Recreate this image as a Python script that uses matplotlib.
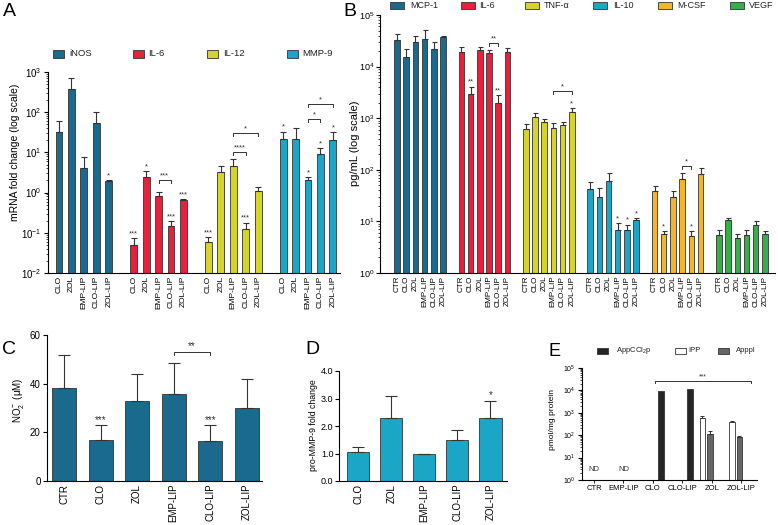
import numpy as np
import matplotlib
matplotlib.use('Agg')
import matplotlib.pyplot as plt
from matplotlib.patches import Rectangle
from matplotlib.ticker import LogLocator, NullFormatter, FormatStrFormatter

plt.rcParams['font.family'] = ['Liberation Sans', 'DejaVu Sans']
plt.rcParams['mathtext.fontset'] = 'custom'
plt.rcParams['mathtext.rm'] = 'Liberation Sans'
plt.rcParams['mathtext.it'] = 'Liberation Sans:italic'
plt.rcParams['mathtext.bf'] = 'Liberation Sans:bold'
plt.rcParams['axes.linewidth'] = 0.8

# ---------------- data ----------------
A_series = ['iNOS', 'IL-6', 'IL-12', 'MMP-9']
A_labels = ['CLO', 'ZOL', 'EMP-LIP', 'CLO-LIP', 'ZOL-LIP']
A_iNOS = [33, 375, 4.2, 53, 1.9]
A_iNOS_err = [60, 700, 7.5, 100, 2.1]
A_iNOS_sig = ['', '', '', '', '*']
A_IL6 = [0.05, 2.5, 0.84, 0.15, 0.67]
A_IL6_err = [0.075, 3.5, 1.06, 0.2, 0.7]
A_IL6_sig = ['***', '*', '', '***', '***']
A_IL12 = [0.06, 3.3, 4.5, 0.125, 1.1]
A_IL12_err = [0.08, 4.5, 7.0, 0.18, 1.4]
A_IL12_sig = ['***', '', '', '***', '']
A_MMP9 = [21, 22, 2.0, 9.0, 20]
A_MMP9_err = [33, 40, 2.4, 13, 32]
A_MMP9_sig = ['*', '', '*', '*', '*']

B_series = ['MCP-1', 'IL-6', 'TNF-α', 'IL-10', 'M-CSF', 'VEGF']
B_labels = ['CTR', 'CLO', 'ZOL', 'EMP-LIP', 'CLO-LIP', 'ZOL-LIP']
B_MCP1 = [33000, 15500, 30000, 35000, 22000, 38000]
B_MCP1_err = [43000, 22000, 40000, 51000, 30000, 40000]
B_MCP1_sig = ['', '', '', '', '', '']
B_IL6 = [19500, 3000, 21000, 18000, 1950, 19500]
B_IL6_err = [24000, 4100, 23500, 21000, 2800, 23000]
B_IL6_sig = ['', '**', '', '', '**', '']
B_TNF = [610, 1050, 840, 650, 730, 1300]
B_TNF_err = [760, 1270, 960, 800, 840, 1600]
B_TNF_sig = ['', '', '', '', '', '*']
B_IL10 = [43, 30, 62, 6.7, 6.7, 10.5]
B_IL10_err = [59, 45, 88, 9.2, 8.7, 11.4]
B_IL10_sig = ['', '', '', '*', '*', '*']
B_MCSF = [38, 5.6, 30, 65, 5.2, 84]
B_MCSF_err = [49, 6.4, 38, 88, 6.4, 110]
B_MCSF_sig = ['', '*', '', '', '*', '']
B_VEGF = [5.4, 10.5, 4.7, 5.4, 8.4, 5.6]
B_VEGF_err = [6.7, 11.4, 5.6, 6.7, 10.0, 6.4]
B_VEGF_sig = ['', '', '', '', '', '']

C_labels = ['CTR', 'CLO', 'ZOL', 'EMP-LIP', 'CLO-LIP', 'ZOL-LIP']
C_vals = [38.3, 16.8, 32.9, 35.8, 16.6, 29.9]
C_err = [51.8, 22.9, 43.8, 48.4, 22.9, 41.8]
C_sig = ['', '***', '', '', '***', '']

D_labels = ['CLO', 'ZOL', 'EMP-LIP', 'CLO-LIP', 'ZOL-LIP']
D_vals = [1.04, 2.30, 1.00, 1.49, 2.28]
D_err = [1.22, 3.08, 1.00, 1.84, 2.90]
D_sig = ['', '', '', '', '*']

E_labels = ['CTR', 'EMP-LIP', 'CLO', 'CLO-LIP', 'ZOL', 'ZOL-LIP']
E_series = ['AppCCl$_2$p', 'IPP', 'Apppl']
E_AppCCl2p = [np.nan, np.nan, 9500, 11800, np.nan, np.nan]
E_IPP = [np.nan, np.nan, np.nan, np.nan, 560, 375]
E_IPP_err = [np.nan, np.nan, np.nan, np.nan, 710, 445]
E_Apppl = [np.nan, np.nan, np.nan, np.nan, 115, 82]
E_Apppl_err = [np.nan, np.nan, np.nan, np.nan, 155, 93]
E_nd = ['ND', 'ND', '', '', '', '']

# ---------------- styling ----------------
teal_dark = '#196a8c'
red = '#e8203c'
ygreen = '#d4d42a'
teal_light = '#1ba6c8'
orange = '#f6b42a'
green = '#39ad48'
edge = '#333333'

W, H = 778, 525
fig = plt.figure(figsize=(W / 100, H / 100), dpi=100)


def rect_px(x0, y0, x1, y1):
    return [x0 / W, 1 - y1 / H, (x1 - x0) / W, (y1 - y0) / H]


def style(ax, xfs, yfs):
    for s in ['top', 'right']:
        ax.spines[s].set_visible(False)
    ax.tick_params(axis='x', length=0, labelsize=xfs, pad=2)
    ax.tick_params(axis='y', which='major', length=3, width=0.8, labelsize=yfs, pad=1.5)
    ax.tick_params(axis='y', which='minor', length=1.5, width=0.5)


def log_axis(ax, lo, hi):
    ax.set_yscale('log')
    ax.set_ylim(lo, hi)
    ax.yaxis.set_major_locator(LogLocator(base=10, numticks=12))
    ax.yaxis.set_minor_locator(LogLocator(base=10, subs=np.arange(2, 10), numticks=12))
    ax.yaxis.set_minor_formatter(NullFormatter())


def shift_y(ax, x, y, dpx):
    d = ax.transData.transform((x, y))
    return ax.transData.inverted().transform((d[0], d[1] + dpx))[1]


def bracket(ax, x1, x2, y, text, fs, drop=3):
    yl = shift_y(ax, x1, y, -drop)
    ax.plot([x1, x1, x2, x2], [yl, y, y, yl], color=edge, lw=0.7, clip_on=False)
    ax.annotate(text, ((x1 + x2) / 2, y), xytext=(0, 0.5), textcoords='offset points',
                ha='center', va='bottom', fontsize=fs, color=edge)


def stars(ax, xs, tops, sig, fs):
    for x, t, s in zip(xs, tops, sig):
        if s:
            ax.annotate(s, (x, t), xytext=(0, 0.5), textcoords='offset points',
                        ha='center', va='bottom', fontsize=fs, color=edge)


def bars(ax, x, v, e, color, width, lo=0, cap=2):
    v = np.asarray(v, float)
    e = np.asarray(e, float)
    ax.bar(x, v - lo, bottom=lo, width=width, color=color, edgecolor=edge, linewidth=0.6, zorder=2)
    ax.errorbar(x, v, yerr=[np.zeros_like(v), e - v], fmt='none', ecolor=edge,
                elinewidth=0.8, capsize=cap, capthick=0.8, zorder=3)


def fig_legend(items, y, size, fs):
    bw, bh = size
    for bx, tx, label, color in items:
        fig.add_artist(Rectangle((bx / W, 1 - (y + bh / 2) / H), bw / W, bh / H,
                                 transform=fig.transFigure, facecolor=color,
                                 edgecolor=edge, linewidth=0.6))
        fig.text(tx / W, 1 - y / H, label, fontsize=fs, ha='left', va='center', color='#222')


# ---------------- Panel A ----------------
axA = fig.add_axes(rect_px(48, 72, 340, 273))
log_axis(axA, 1e-2, 1e3)
style(axA, 6, 7)
axA.set_xlim(-0.88, 22.57)
A_data = [(A_iNOS, A_iNOS_err, A_iNOS_sig, teal_dark),
          (A_IL6, A_IL6_err, A_IL6_sig, red),
          (A_IL12, A_IL12_err, A_IL12_sig, ygreen),
          (A_MMP9, A_MMP9_err, A_MMP9_sig, teal_light)]
A_ticks = []
for g, (v, e, s, c) in enumerate(A_data):
    x = g * 6 + np.arange(len(A_labels))
    bars(axA, x, v, e, c, 0.55, lo=1e-2, cap=2)
    stars(axA, x, e, s, 5.5)
    A_ticks.extend(x)
axA.set_xticks(A_ticks)
axA.set_xticklabels(A_labels * 4, rotation=90)
bracket(axA, 8, 9, 2.1, '***', 5.5)
bracket(axA, 14, 15, 10, '****', 5.5)
bracket(axA, 14, 16, 30, '*', 5.5)
bracket(axA, 20, 21, 67, '*', 5.5)
bracket(axA, 20, 22, 160, '*', 5.5)
fig.text(15 / W, 1 - 152 / H, 'mRNA fold change (log scale)', rotation=90,
         ha='center', va='center', fontsize=7.5)
fig_legend([(53, 69, A_series[0], teal_dark), (133, 148, A_series[1], red),
            (207, 223, A_series[2], ygreen), (287, 302, A_series[3], teal_light)],
           54, (11, 8), 6.8)
fig.text(3 / W, 1 - 12 / H, 'A', fontsize=14, ha='left', va='center')

# ---------------- Panel B ----------------
axB = fig.add_axes(rect_px(380, 15, 775, 273))
log_axis(axB, 1, 1e5)
style(axB, 5.8, 6.5)
axB.tick_params(axis='y', which='major', pad=1)
axB.set_xlim(-1.85, 41.1)
B_data = [(B_MCP1, B_MCP1_err, B_MCP1_sig, teal_dark),
          (B_IL6, B_IL6_err, B_IL6_sig, red),
          (B_TNF, B_TNF_err, B_TNF_sig, ygreen),
          (B_IL10, B_IL10_err, B_IL10_sig, teal_light),
          (B_MCSF, B_MCSF_err, B_MCSF_sig, orange),
          (B_VEGF, B_VEGF_err, B_VEGF_sig, green)]
B_ticks = []
for g, (v, e, s, c) in enumerate(B_data):
    x = g * 7 + np.arange(len(B_labels))
    bars(axB, x, v, e, c, 0.6, lo=1, cap=1.8)
    stars(axB, x, e, s, 5.5)
    B_ticks.extend(x)
axB.set_xticks(B_ticks)
axB.set_xticklabels(B_labels * 6, rotation=90)
bracket(axB, 10, 11, 29000, '**', 5.5)
bracket(axB, 17, 19, 3300, '*', 5.5)
bracket(axB, 31, 32, 120, '*', 5.5)
fig.text(355 / W, 1 - 143 / H, 'pg/mL (log scale)', rotation=90,
         ha='center', va='center', fontsize=8)
B_cols = [teal_dark, red, ygreen, teal_light, orange, green]
B_box = [390, 461, 525, 593, 658, 730]
B_txt = [410, 479, 544, 613, 677, 749]
fig_legend([(bx, tx, lab, c) for bx, tx, lab, c in zip(B_box, B_txt, B_series, B_cols)],
           5, (14, 7), 6.5)
fig.text(343 / W, 1 - 12 / H, 'B', fontsize=14, ha='left', va='center')

# ---------------- Panel C ----------------
axC = fig.add_axes(rect_px(47, 335, 262, 481))
style(axC, 7, 7)
axC.set_ylim(0, 60)
axC.set_yticks([0, 20, 40, 60])
axC.set_xlim(-0.47, 5.42)
xC = np.arange(len(C_labels))
bars(axC, xC, C_vals, C_err, teal_dark, 0.66, cap=4)
stars(axC, xC, C_err, C_sig, 7)
bracket(axC, 3, 4, 53, '**', 7)
axC.set_xticks(xC)
axC.set_xticklabels(C_labels, rotation=90)
fig.text(19 / W, 1 - 400 / H, 'NO$_2^-$ (μM)', rotation=90, ha='center', va='center', fontsize=7)
fig.text(2 / W, 1 - 350 / H, 'C', fontsize=14, ha='left', va='center')

# ---------------- Panel D ----------------
axD = fig.add_axes(rect_px(339, 371, 507, 481))
style(axD, 7, 6.5)
axD.tick_params(axis='y', which='major', pad=1)
axD.set_ylim(0, 4)
axD.set_yticks([0, 1, 2, 3, 4])
axD.yaxis.set_major_formatter(FormatStrFormatter('%.1f'))
axD.set_xlim(-0.58, 4.5)
xD = np.arange(len(D_labels))
bars(axD, xD, D_vals, D_err, teal_light, 0.67, cap=4)
stars(axD, xD, D_err, D_sig, 7)
axD.set_xticks(xD)
axD.set_xticklabels(D_labels, rotation=90)
fig.text(313 / W, 1 - 425 / H, 'pro-MMP-9 fold change', rotation=90, ha='center',
         va='center', fontsize=6.3)
fig.text(305 / W, 1 - 349 / H, 'D', fontsize=14, ha='left', va='center')

# ---------------- Panel E ----------------
axE = fig.add_axes(rect_px(582, 368, 757, 480))
log_axis(axE, 1, 1e5)
style(axE, 5.5, 5)
axE.tick_params(axis='x', length=2, width=0.6, pad=1.5)
axE.set_xlim(-0.41, 5.54)
xE = np.arange(len(E_labels))
wE = 0.19
axE.bar(xE + 0.27, np.array(E_AppCCl2p) - 1, bottom=1, width=wE, color='#262626',
        edgecolor=edge, linewidth=0.6, zorder=2)
for off, v, e, c in [(-0.32, E_IPP, E_IPP_err, 'white'), (-0.06, E_Apppl, E_Apppl_err, '#666666')]:
    v = np.array(v, float)
    e = np.array(e, float)
    axE.bar(xE + off, v - 1, bottom=1, width=wE, color=c, edgecolor=edge, linewidth=0.6, zorder=2)
    axE.errorbar(xE + off, v, yerr=[np.zeros_like(v), e - v], fmt='none', ecolor=edge,
                 elinewidth=0.7, capsize=1.5, capthick=0.7, zorder=3)
for x, s in zip(xE, E_nd):
    if s:
        axE.text(x, 3, s, ha='center', va='center', fontsize=5.5, color='#333')
axE.set_xticks(xE)
axE.set_xticklabels(E_labels)
bracket(axE, 2.07, 5.34, 26000, '***', 5, drop=2)
fig.text(553 / W, 1 - 420 / H, 'pmol/mg protein', rotation=90, ha='center', va='center', fontsize=6)
fig_legend([(597, 616, E_series[0], '#262626'), (675, 688, E_series[1], 'white'),
            (718, 736, E_series[2], '#666666')], 351, (11, 6), 5.5)
fig.text(549 / W, 1 - 352 / H, 'E', fontsize=13, ha='left', va='center')

fig.savefig('out.png', dpi=100)
